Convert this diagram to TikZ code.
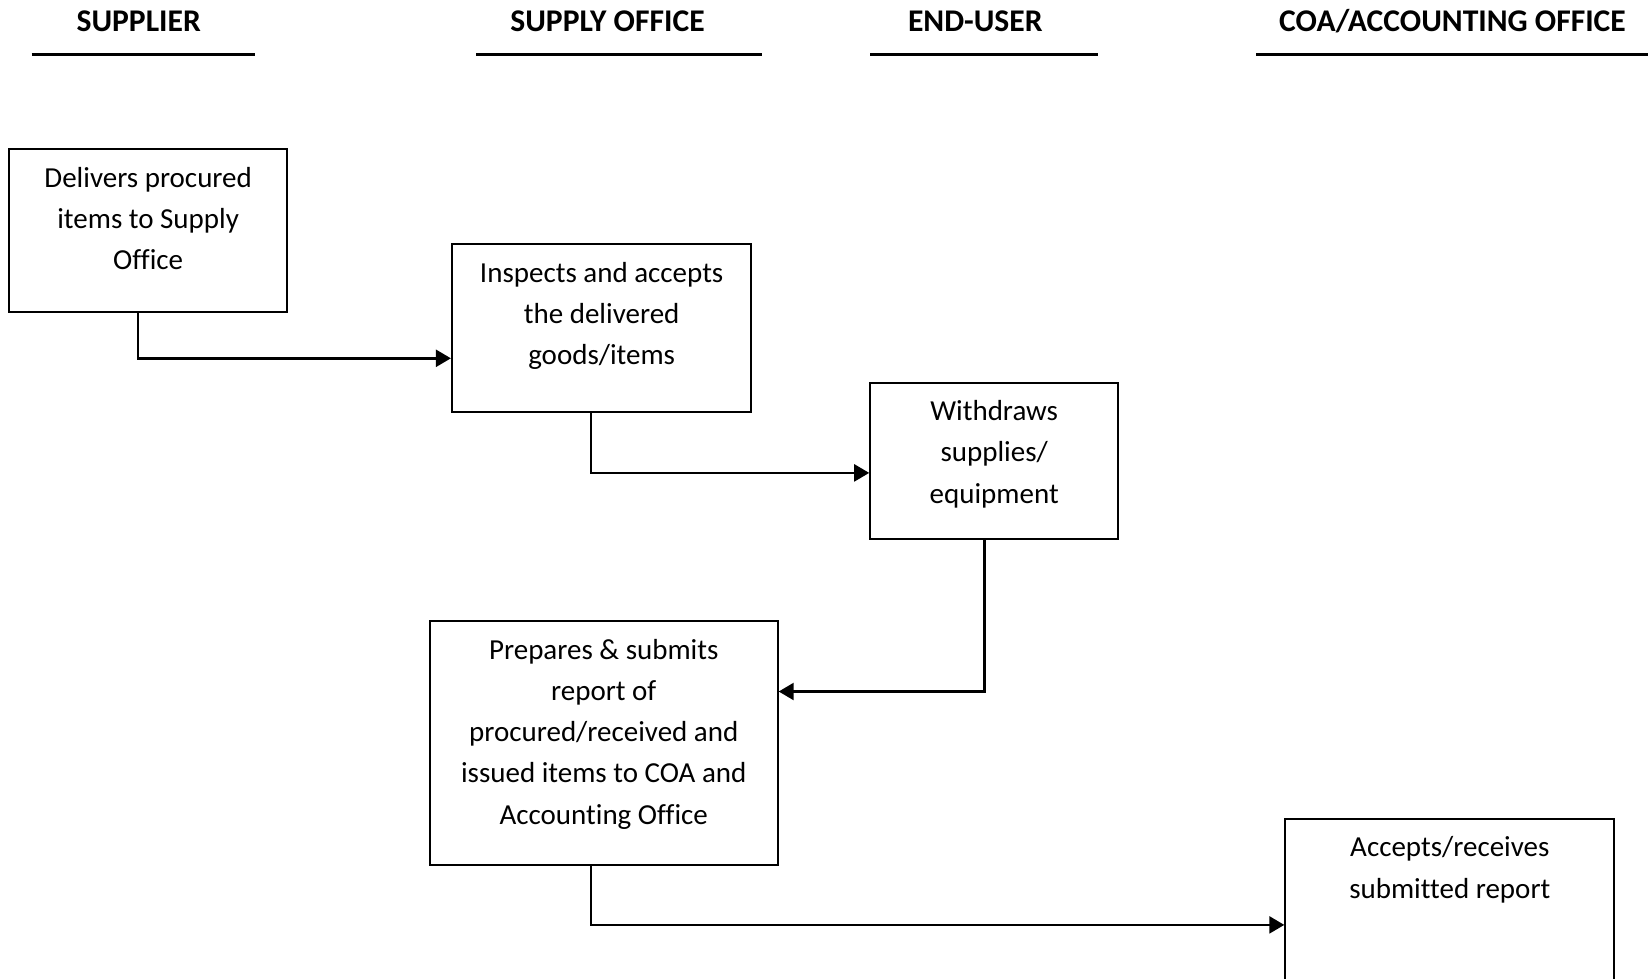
\documentclass[tikz,border=0pt]{standalone}
\usepackage{fontspec}
\setmainfont{Carlito}[Ligatures=NoCommon]
\usetikzlibrary{arrows.meta}
\tikzset{
  lane/.style={font=\bfseries\fontsize{31.6}{38}\selectfont, anchor=base, inner sep=0pt},
  laneline/.style={line width=2.6pt},
  stepbox/.style={draw, line width=2pt, inner sep=0pt, anchor=north west},
  boxtext/.style={anchor=north, yshift=-15pt, inner sep=0pt, align=center,
    font=\fontsize{29}{41.2}\selectfont},
  flow/.style={line width=2.4pt, -{Triangle[length=15pt,width=17pt]}}
}
\newcommand{\firstline}{\rule{0pt}{24pt}}
\begin{document}
\begin{tikzpicture}[x=1pt,y=-1pt]
  \useasboundingbox (0,0) rectangle (1648,978);
  \clip (0,0) rectangle (1648,978);

  % lane headings
  \node[lane] (h1) at (138.7,31) {SUPPLIER};
  \node[lane] (h2) at (607.5,31) {SUPPLY OFFICE};
  \node[lane] (h3) at (975.3,31) {END-USER};
  \node[lane] (h4) at (1452.5,31) {COA/ACCOUNTING OFFICE};
  \draw[laneline] (31.5,54.7) -- (255,54.7);
  \draw[laneline] (476,54.7) -- (762,54.7);
  \draw[laneline] (870,54.7) -- (1098,54.7);
  \draw[laneline] (1256,54.7) -- (1648,54.7);

  % process steps
  \node[stepbox, minimum width=277.5pt, minimum height=162.9pt,
    label={[boxtext]north:{\firstline Delivers procured\\items to Supply\\Office}}]
    (b1) at (8.4,148.2) {};
  \node[stepbox, minimum width=299.5pt, minimum height=168.1pt,
    label={[boxtext]north:{\firstline Inspects and accepts\\the delivered\\goods/items}}]
    (b2) at (450.9,242.8) {};
  \node[stepbox, minimum width=248pt, minimum height=156.6pt,
    label={[boxtext]north:{\firstline Withdraws\\supplies/\\equipment}}]
    (b3) at (869.2,381.5) {};
  \node[stepbox, minimum width=347.9pt, minimum height=243.8pt,
    label={[boxtext]north:{\firstline Prepares \& submits\\report of\\procured/received and\\issued items to COA and\\Accounting Office}}]
    (b4) at (428.8,620.1) {};
  \node[stepbox, minimum width=329pt, minimum height=220pt,
    label={[boxtext]north:{\firstline Accepts/receives\\submitted report}}]
    (b5) at (1284.3,817.7) {};

  % flow between steps
  \draw[flow] ([xshift=-10.2pt]b1.south) |- ([yshift=-30.45pt]b2.west);
  \draw[flow] ([xshift=-10.7pt]b2.south) |- ([yshift=-12.1pt]b3.west);
  \draw[flow] ([xshift=-9.8pt]b3.south) |- ([yshift=51.5pt]b4.east);
  \draw[flow] ([xshift=-12.8pt]b4.south) |- ([yshift=-107.2pt]b5.north west);
\end{tikzpicture}
\end{document}
